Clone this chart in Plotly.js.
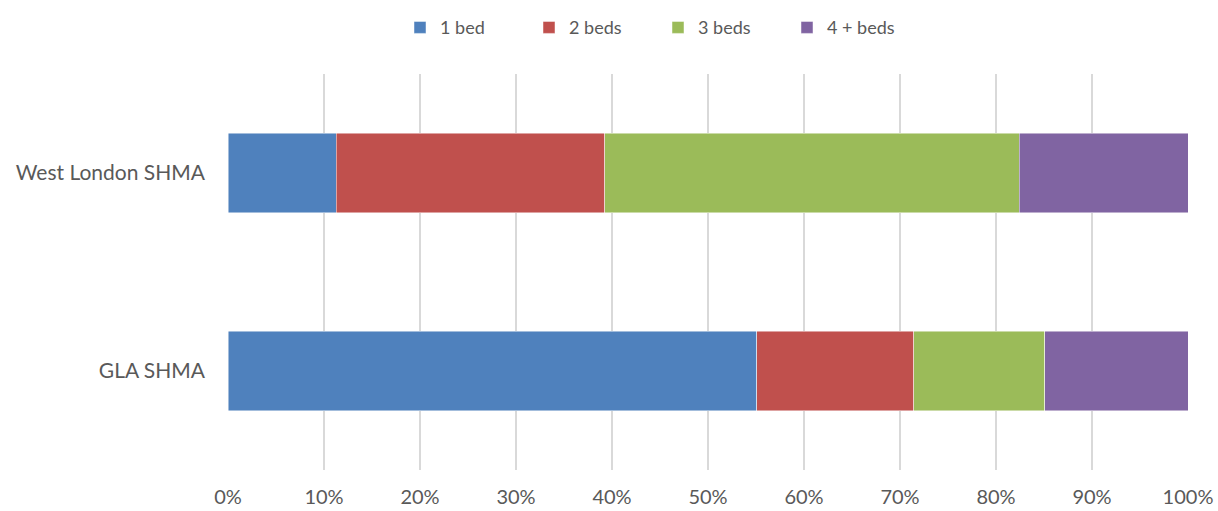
<!DOCTYPE html>
<html>
<head>
<meta charset="utf-8">
<script src="https://cdn.plot.ly/plotly-3.0.1.min.js"></script>
<style>html,body{margin:0;padding:0;background:#fff;}#chart{width:1218px;height:511px;}</style>
</head>
<body>
<div id="chart"></div>
<script>
const categories = ['GLA SHMA', 'West London SHMA'];
const seriesNames = ['1 bed', '2 beds', '3 beds', '4 + beds'];
const oneBed = [55.1, 11.25];
const twoBeds = [16.35, 28.0];
const threeBeds = [13.65, 43.15];
const fourPlusBeds = [14.9, 17.6];
const colors = ['#4F81BD', '#C0504D', '#9BBB59', '#8064A2'];
const xTickVals = [0, 10, 20, 30, 40, 50, 60, 70, 80, 90, 100];
const xTickText = ['0%', '10%', '20%', '30%', '40%', '50%', '60%', '70%', '80%', '90%', '100%'];

const values = [oneBed, twoBeds, threeBeds, fourPlusBeds];
const traces = values.map((v, i) => ({
  type: 'bar',
  orientation: 'h',
  name: seriesNames[i],
  y: categories,
  x: v,
  marker: {color: colors[i], line: {color: 'rgba(255,255,255,0.6)', width: 0.8}},
  hoverinfo: 'x+name'
}));

const layout = {
  width: 1218, height: 511,
  barmode: 'stack',
  bargap: 0.6,
  paper_bgcolor: '#fff', plot_bgcolor: '#fff',
  margin: {l: 228, r: 30, t: 74, b: 41},
  font: {family: 'Lato, "Open Sans", sans-serif', size: 20, color: '#595959'},
  showlegend: true,
  legend: {
    orientation: 'h', x: (400 - 228) / 960, xanchor: 'left', xref: 'paper',
    y: 0.982, yref: 'container', yanchor: 'top',
    traceorder: 'normal',
    entrywidth: 84, entrywidthmode: 'pixels',
    font: {size: 18, color: '#595959'},
    itemclick: false
  },
  xaxis: {
    range: [0, 100],
    tickvals: xTickVals, ticktext: xTickText,
    showgrid: true, gridcolor: '#D9D9D9', gridwidth: 1.5,
    zeroline: false, showline: false,
    ticks: '', ticklabelstandoff: 13,
    tickfont: {size: 20, color: '#595959'},
    fixedrange: true
  },
  yaxis: {
    type: 'category',
    categoryorder: 'array', categoryarray: categories,
    showgrid: false, zeroline: false, showline: false,
    ticks: '', ticklabelstandoff: 22,
    tickfont: {size: 21, color: '#595959'},
    fixedrange: true
  }
};

Plotly.newPlot('chart', traces, layout, {displayModeBar: false, staticPlot: true});
</script>
</body>
</html>
